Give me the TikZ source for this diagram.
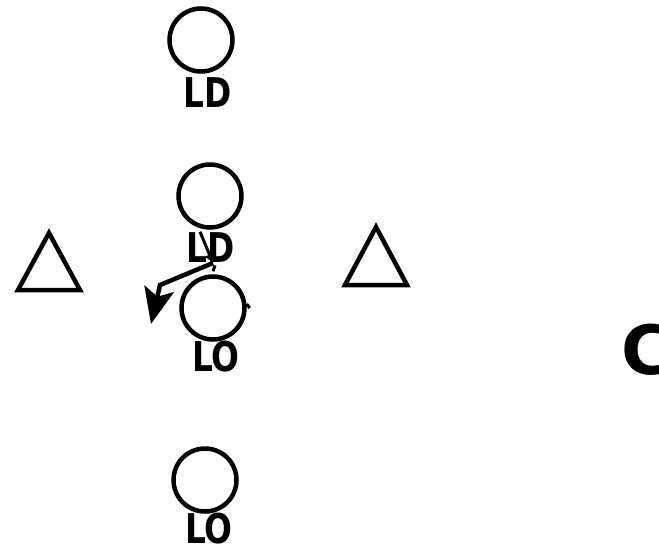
\documentclass[tikz,border=0pt]{standalone}
\usepackage{fontspec}
\setmainfont{DejaVu Sans}
\usetikzlibrary{arrows.meta}

\begin{document}
\begin{tikzpicture}[x=1pt,y=-1pt,
  player/.style={draw,circle,line width=4.5pt,minimum size=63pt,inner sep=0pt},
  tag/.style={font=\fontsize{41}{41}\selectfont\bfseries,inner sep=0pt},
  defender/.style={line width=4.5pt,line join=miter}]
  \useasboundingbox[fill=white] (0,0) rectangle (659,552);
  % linemen
  \node[player] (ld1) at (201,40) {};
  \node[tag] (ld1t) at (208,93) {\scalebox{0.8}[1]{LD}};
  \node[player] (ld2) at (210,196) {};
  \node[tag] (ld2t) at (211,248) {\scalebox{0.8}[1]{LD}};
  \node[player] (lo1) at (213,308) {};
  \node[tag] (lo1t) at (216,357) {\scalebox{0.8}[1]{LO}};
  \node[player] (lo2) at (205,480) {};
  \node[tag] (lo2t) at (209,529) {\scalebox{0.8}[1]{LO}};
  % defenders
  \draw[defender] (49,233) -- (80,290) -- (18,290) -- cycle;
  \draw[defender] (376,227) -- (407,285) -- (345,285) -- cycle;
  \node[font=\fontsize{68}{68}\selectfont\bfseries,inner sep=0pt,anchor=west] (c) at (621,350) {C};
  % route
  \coordinate (turn) at (213,263);
  \coordinate (bend) at (160,285);
  \coordinate (end) at (151,324);
  \draw[line width=3pt,-{Triangle[length=9pt,width=9pt]}] (ld2.south) ++(-10,2) -- (turn);
  \draw[line width=4.5pt,-{Stealth[length=36pt,width=30pt,inset=8pt]}] (turn) -- (bend) -- (end);
  \draw[line width=3pt] (lo1.north) ++(0,-3) -- ++(2,-6);
  \draw[line width=3pt] (lo1.east) ++(0,-4) -- ++(3,4);
\end{tikzpicture}
\end{document}
